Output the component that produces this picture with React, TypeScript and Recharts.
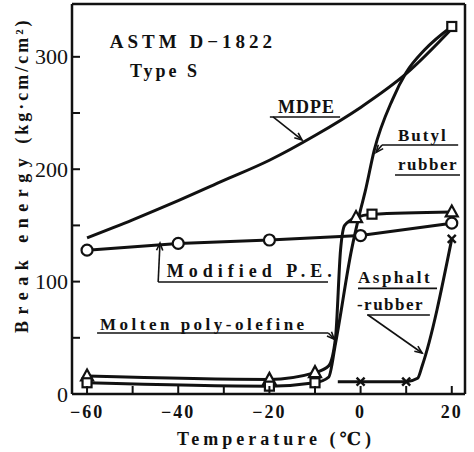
import React from 'react';
import { LineChart, Line, XAxis, YAxis, ReferenceLine, ReferenceDot, Label } from 'recharts';

// axis ticks
const xTicks = [-60, -50, -40, -30, -20, -10, 0, 10, 20];
const xTickLabels = ['−60', '', '−40', '', '−20', '', '0', '', '20'];
const yTicks = [0, 50, 100, 150, 200, 250, 300];
const yTickLabels = ['0', '', '100', '', '200', '', '300'];

// MDPE (no markers)
const mdpeTemp = [-60, -50, -40, -30, -20, -10, 0, 10, 20];
const mdpeEnergy = [139, 155, 172, 190, 208, 230, 255, 285, 325];

// Modified P.E. (circles)
const modTemp = [-60, -40, -20, 0, 20];
const modEnergy = [128, 134, 137, 141, 152];
const modMarks = ['o', 'o', 'o', 'o', 'o'];

// Molten poly-olefine (triangles)
const moltenTemp = [-60, -20, -10, -7, -5.5, -4.4, -3.5, -1, 2.5, 20];
const moltenEnergy = [16, 13, 19, 25, 50, 128, 150, 157, 160, 162];
const moltenMarks = ['tri', 'tri', 'tri', '', '', '', '', 'tri', 'sq', 'tri'];

// Butyl rubber (squares)
const butylTemp = [-60, -20, -10, -7, -5.5, -2, 0, 1, 3, 7, 10, 14, 20];
const butylEnergy = [10, 7, 10, 15, 45, 128, 164, 180, 217, 262, 286, 306, 327];
const butylMarks = ['sq', 'sq', 'sq', '', '', '', '', '', '', '', '', '', 'sq'];

// Asphalt-rubber (crosses)
const asphaltTemp = [-5, 0, 10, 12.5, 13.5, 20];
const asphaltEnergy = [11, 11, 11, 14, 25, 138];
const asphaltMarks = ['', 'x', 'x', '', '', 'x'];

const zip = (t: number[], e: number[], m?: string[]) =>
  t.map((x, i) => ({ t: x, e: e[i], m: m ? m[i] : '' }));

const INK = '#111';
const FONT = "'Liberation Serif', 'DejaVu Serif', serif";

const renderMark = (props: any) => {
  const { cx, cy, payload, index } = props;
  const key = `mk-${index}-${cx}`;
  const m = payload?.m;
  if (!m || cx == null || cy == null) return <g key={key} />;
  if (m === 'o')
    return <circle key={key} cx={cx} cy={cy} r={5.5} fill="#fff" stroke={INK} strokeWidth={2.2} />;
  if (m === 'sq')
    return <rect key={key} x={cx - 4.5} y={cy - 4.5} width={9} height={9} fill="#fff" stroke={INK} strokeWidth={2.2} />;
  if (m === 'tri')
    return (
      <polygon
        key={key}
        points={`${cx},${cy - 6.5} ${cx - 6},${cy + 4.5} ${cx + 6},${cy + 4.5}`}
        fill="#fff"
        stroke={INK}
        strokeWidth={2.2}
      />
    );
  return (
    <g key={key} stroke={INK} strokeWidth={2.4}>
      <line x1={cx - 4} y1={cy - 4} x2={cx + 4} y2={cy + 4} />
      <line x1={cx - 4} y1={cy + 4} x2={cx + 4} y2={cy - 4} />
    </g>
  );
};

const XTick = (props: any) => {
  const { x, y, payload } = props;
  const label = xTickLabels[xTicks.indexOf(payload.value)];
  return (
    <g>
      <line x1={x} y1={y} x2={x} y2={y - 8} stroke={INK} strokeWidth={2} />
      {label && (
        <text x={x} y={y + 24} textAnchor="middle" fontFamily={FONT} fontWeight="bold" fontSize={18} letterSpacing={2} fill={INK}>
          {label}
        </text>
      )}
    </g>
  );
};

const YTick = (props: any) => {
  const { x, y, payload } = props;
  const label = yTickLabels[yTicks.indexOf(payload.value)];
  return (
    <g>
      <line x1={x} y1={y} x2={x + 8} y2={y} stroke={INK} strokeWidth={2} />
      {label && (
        <text x={x - 4} y={y + 7.5} textAnchor="end" fontFamily={FONT} fontSize={22} fill={INK}>
          {label}
        </text>
      )}
    </g>
  );
};

const textNote = (key: string, t: number, e: number, text: string, size: number, spacing: number) => (
  <ReferenceDot
    key={key}
    x={t}
    y={e}
    r={0}
    ifOverflow="visible"
    shape={(p: any) => (
      <text x={p.cx} y={p.cy} fontFamily={FONT} fontWeight="bold" fontSize={size} letterSpacing={spacing} fill={INK}>
        {text}
      </text>
    )}
  />
);

const rule = (key: string, a: [number, number], b: [number, number], arrow = false) => (
  <ReferenceLine
    key={key}
    segment={[{ x: a[0], y: a[1] }, { x: b[0], y: b[1] }]}
    ifOverflow="visible"
    shape={(p: any) => {
      const { x1, y1, x2, y2 } = p;
      if (!arrow) return <line x1={x1} y1={y1} x2={x2} y2={y2} stroke={INK} strokeWidth={1.6} />;
      const ang = Math.atan2(y2 - y1, x2 - x1);
      const len = 8;
      const h1x = x2 - len * Math.cos(ang - 0.4);
      const h1y = y2 - len * Math.sin(ang - 0.4);
      const h2x = x2 - len * Math.cos(ang + 0.4);
      const h2y = y2 - len * Math.sin(ang + 0.4);
      return (
        <g stroke={INK} strokeWidth={1.6} fill="none">
          <line x1={x1} y1={y1} x2={x2} y2={y2} />
          <polyline points={`${h1x},${h1y} ${x2},${y2} ${h2x},${h2y}`} />
        </g>
      );
    }}
  />
);

const YTitle = (props: any) => {
  const vb = props.viewBox || { x: 0, y: 4 };
  const x = vb.x + 28;
  const y = vb.y + 329;
  return (
    <text transform={`translate(${x},${y}) rotate(-90)`} fontFamily={FONT} fontWeight="bold" fill={INK}>
      <tspan fontSize={18} letterSpacing={6.5}>Break energy</tspan>
      <tspan fontSize={18} dx={8} letterSpacing={3}>(kg·cm/cm²)</tspan>
    </text>
  );
};

const XTitle = (props: any) => {
  const vb = props.viewBox || { x: 72, y: 394, width: 393 };
  return (
    <text x={276} y={vb.y + 51} textAnchor="middle" fontFamily={FONT} fontWeight="bold" fontSize={18} letterSpacing={4} fill={INK}>
      Temperature (℃)
    </text>
  );
};

export default function App() {
  return (
    <div style={{ position: 'absolute', left: 0, top: 0, width: 474, height: 452, background: '#fff' }}>
      <LineChart width={474} height={452} margin={{ top: 4, right: 9, bottom: 0, left: 0 }}>
        <XAxis
          dataKey="t"
          type="number"
          domain={[-63.3, 22.9]}
          allowDataOverflow
          ticks={xTicks}
          interval={0}
          height={58}
          tickSize={0}
          tickMargin={0}
          tickLine={false}
          axisLine={{ stroke: INK, strokeWidth: 2.5 }}
          tick={<XTick />}
        >
          <Label content={<XTitle />} />
        </XAxis>
        <YAxis
          type="number"
          domain={[0, 347]}
          allowDataOverflow
          ticks={yTicks}
          interval={0}
          width={72}
          tickSize={0}
          tickMargin={0}
          tickLine={false}
          axisLine={{ stroke: INK, strokeWidth: 2.5 }}
          tick={<YTick />}
        >
          <Label content={<YTitle />} />
        </YAxis>
        <ReferenceLine y={347} stroke={INK} strokeWidth={2.5} ifOverflow="visible" />
        <ReferenceLine x={22.9} stroke={INK} strokeWidth={2.5} ifOverflow="visible" />

        <Line data={zip(mdpeTemp, mdpeEnergy)} dataKey="e" type="monotone" stroke={INK} strokeWidth={3} dot={false} activeDot={false} isAnimationActive={false} />
        <Line data={zip(modTemp, modEnergy, modMarks)} dataKey="e" type="linear" stroke={INK} strokeWidth={3} dot={renderMark} activeDot={false} isAnimationActive={false} />
        <Line data={zip(moltenTemp, moltenEnergy, moltenMarks)} dataKey="e" type="monotone" stroke={INK} strokeWidth={3} dot={renderMark} activeDot={false} isAnimationActive={false} />
        <Line data={zip(butylTemp, butylEnergy, butylMarks)} dataKey="e" type="monotone" stroke={INK} strokeWidth={3} dot={renderMark} activeDot={false} isAnimationActive={false} />
        <Line data={zip(asphaltTemp, asphaltEnergy, asphaltMarks)} dataKey="e" type="monotone" stroke={INK} strokeWidth={3} dot={renderMark} activeDot={false} isAnimationActive={false} />

        {textNote('astm', -55, 307.8, 'ASTM D−1822', 19, 4)}
        {textNote('type', -50.6, 282, 'Type S', 18, 3)}
        {textNote('mdpe', -18.1, 250, 'MDPE', 18, 1)}
        {rule('mdpe-u', [-19.9, 246.5], [-4.5, 246.5])}
        {rule('mdpe-a', [-19.2, 246.5], [-12.85, 226], true)}
        {textNote('butyl', 8.2, 225, 'Butyl', 17, 2)}
        {textNote('butyl2', 8.2, 199.3, 'rubber', 17, 1.5)}
        {rule('butyl-u', [4.7, 221.5], [21.4, 221.5])}
        {rule('butyl-u2', [7.55, 194.9], [21.8, 194.9])}
        {rule('butyl-a', [4.7, 221.5], [3.4, 215], true)}
        {textNote('mod', -42.5, 104.1, 'Modified P.E.', 18, 5)}
        {rule('mod-u', [-44.4, 99.6], [-7.15, 99.6])}
        {rule('mod-a', [-44.4, 99.6], [-44.0, 134.3], true)}
        {textNote('molten', -57.16, 56.9, 'Molten poly-olefine', 17, 3.5)}
        {rule('molten-u', [-57.8, 54.3], [-7.08, 54.3])}
        {rule('molten-a', [-7.08, 54.3], [-5.77, 48.7], true)}
        {textNote('asph', -0.57, 99, 'Asphalt', 17, 2.5)}
        {textNote('asph2', -0.8, 74.7, '-rubber', 17, 1.5)}
        {rule('asph-u', [-0.57, 94], [16.76, 94])}
        {rule('asph-u2', [1.4, 70.3], [15.2, 70.3])}
        {rule('asph-a', [1.63, 70.3], [13.5, 36.5], true)}
      </LineChart>
    </div>
  );
}
